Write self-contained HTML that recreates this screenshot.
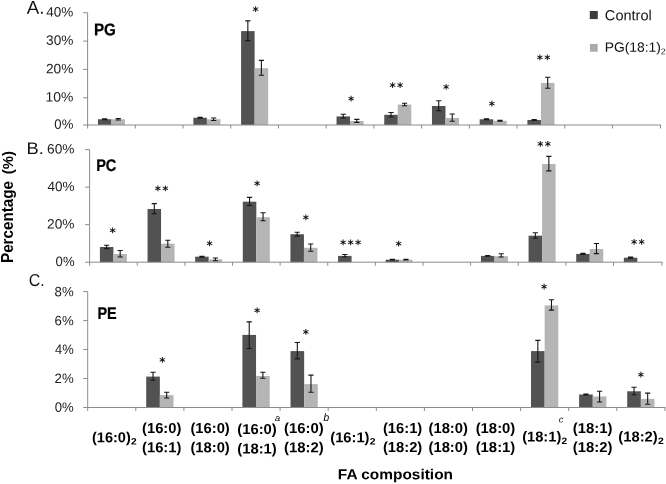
<!DOCTYPE html>
<html><head><meta charset="utf-8"><title>FA composition</title>
<style>html,body{margin:0;padding:0;background:#fff}svg{display:block}text{font-family:"Liberation Sans",sans-serif}text.dj{font-family:"DejaVu Sans",sans-serif}</style>
</head><body>
<svg width="666" height="484" viewBox="0 0 666 484">
<rect width="666" height="484" fill="#fff"/>
<rect x="97.93" y="119.25" width="13.53" height="5.75" fill="#525252"/>
<rect x="111.46" y="119.25" width="13.53" height="5.75" fill="#b5b5b5"/>
<rect x="193.37" y="117.75" width="13.53" height="7.25" fill="#525252"/>
<rect x="206.90" y="119.25" width="13.53" height="5.75" fill="#b5b5b5"/>
<rect x="241.09" y="31.10" width="13.53" height="93.90" fill="#525252"/>
<rect x="254.62" y="68.20" width="13.53" height="56.80" fill="#b5b5b5"/>
<rect x="336.53" y="116.40" width="13.53" height="8.60" fill="#525252"/>
<rect x="350.06" y="121.00" width="13.53" height="4.00" fill="#b5b5b5"/>
<rect x="384.25" y="114.80" width="13.53" height="10.20" fill="#525252"/>
<rect x="397.78" y="104.60" width="13.53" height="20.40" fill="#b5b5b5"/>
<rect x="431.97" y="106.00" width="13.53" height="19.00" fill="#525252"/>
<rect x="445.50" y="118.00" width="13.53" height="7.00" fill="#b5b5b5"/>
<rect x="479.69" y="119.30" width="13.53" height="5.70" fill="#525252"/>
<rect x="493.22" y="120.80" width="13.53" height="4.20" fill="#b5b5b5"/>
<rect x="527.41" y="120.00" width="13.53" height="5.00" fill="#525252"/>
<rect x="540.94" y="82.90" width="13.53" height="42.10" fill="#b5b5b5"/>
<path d="M87.6 12.7V125.0M87.6 125.0H661.00" stroke="#8c8c8c" stroke-width="1" fill="none"/>
<path d="M83.1 12.70H87.6M83.1 41.10H87.6M83.1 69.40H87.6M83.1 97.80H87.6M83.1 125.00H87.6M87.60 125.0V128.5M135.32 125.0V128.5M183.04 125.0V128.5M230.76 125.0V128.5M278.48 125.0V128.5M326.20 125.0V128.5M373.92 125.0V128.5M421.64 125.0V128.5M469.36 125.0V128.5M517.08 125.0V128.5M564.80 125.0V128.5M612.52 125.0V128.5M660.50 125.0V128.5" stroke="#8c8c8c" stroke-width="1" fill="none"/>
<path d="M104.69 118.75V119.75M102.09 118.75H107.29M102.09 119.75H107.29" stroke="#161616" stroke-width="1.1" fill="none"/>
<path d="M118.23 118.45V120.05M115.63 118.45H120.83M115.63 120.05H120.83" stroke="#161616" stroke-width="1.1" fill="none"/>
<path d="M200.13 117.35V118.15M197.53 117.35H202.73M197.53 118.15H202.73" stroke="#161616" stroke-width="1.1" fill="none"/>
<path d="M213.67 118.05V120.45M211.07 118.05H216.27M211.07 120.45H216.27" stroke="#161616" stroke-width="1.1" fill="none"/>
<path d="M247.85 20.85V40.60M245.25 20.85H250.45M245.25 40.60H250.45" stroke="#161616" stroke-width="1.1" fill="none"/>
<path d="M261.39 60.40V75.30M258.79 60.40H263.99M258.79 75.30H263.99" stroke="#161616" stroke-width="1.1" fill="none"/>
<path d="M343.29 114.30V118.00M340.69 114.30H345.89M340.69 118.00H345.89" stroke="#161616" stroke-width="1.1" fill="none"/>
<path d="M356.83 119.40V122.40M354.23 119.40H359.43M354.23 122.40H359.43" stroke="#161616" stroke-width="1.1" fill="none"/>
<path d="M391.01 112.50V117.00M388.41 112.50H393.61M388.41 117.00H393.61" stroke="#161616" stroke-width="1.1" fill="none"/>
<path d="M404.55 103.30V105.80M401.95 103.30H407.15M401.95 105.80H407.15" stroke="#161616" stroke-width="1.1" fill="none"/>
<path d="M438.73 100.80V110.80M436.13 100.80H441.33M436.13 110.80H441.33" stroke="#161616" stroke-width="1.1" fill="none"/>
<path d="M452.27 114.00V121.30M449.67 114.00H454.87M449.67 121.30H454.87" stroke="#161616" stroke-width="1.1" fill="none"/>
<path d="M486.45 118.80V119.80M483.85 118.80H489.05M483.85 119.80H489.05" stroke="#161616" stroke-width="1.1" fill="none"/>
<path d="M499.99 120.30V121.30M497.39 120.30H502.59M497.39 121.30H502.59" stroke="#161616" stroke-width="1.1" fill="none"/>
<path d="M534.17 119.50V120.50M531.57 119.50H536.77M531.57 120.50H536.77" stroke="#161616" stroke-width="1.1" fill="none"/>
<path d="M547.71 77.20V88.30M545.11 77.20H550.31M545.11 88.30H550.31" stroke="#161616" stroke-width="1.1" fill="none"/>
<rect x="99.91" y="247.00" width="13.51" height="15.20" fill="#525252"/>
<rect x="113.41" y="254.00" width="13.51" height="8.20" fill="#b5b5b5"/>
<rect x="147.54" y="209.00" width="13.51" height="53.20" fill="#525252"/>
<rect x="161.04" y="243.70" width="13.51" height="18.50" fill="#b5b5b5"/>
<rect x="195.17" y="256.70" width="13.51" height="5.50" fill="#525252"/>
<rect x="208.68" y="259.40" width="13.51" height="2.80" fill="#b5b5b5"/>
<rect x="242.80" y="201.70" width="13.51" height="60.50" fill="#525252"/>
<rect x="256.31" y="217.20" width="13.51" height="45.00" fill="#b5b5b5"/>
<rect x="290.43" y="234.20" width="13.51" height="28.00" fill="#525252"/>
<rect x="303.94" y="247.80" width="13.51" height="14.40" fill="#b5b5b5"/>
<rect x="338.06" y="255.90" width="13.51" height="6.30" fill="#525252"/>
<rect x="385.69" y="259.70" width="13.51" height="2.50" fill="#525252"/>
<rect x="399.19" y="259.70" width="13.51" height="2.50" fill="#b5b5b5"/>
<rect x="480.95" y="255.90" width="13.51" height="6.30" fill="#525252"/>
<rect x="494.45" y="256.20" width="13.51" height="6.00" fill="#b5b5b5"/>
<rect x="528.58" y="235.70" width="13.51" height="26.50" fill="#525252"/>
<rect x="542.09" y="164.00" width="13.51" height="98.20" fill="#b5b5b5"/>
<rect x="576.21" y="253.90" width="13.51" height="8.30" fill="#525252"/>
<rect x="589.71" y="249.00" width="13.51" height="13.20" fill="#b5b5b5"/>
<rect x="623.84" y="257.70" width="13.51" height="4.50" fill="#525252"/>
<path d="M89.6 149.6V262.2M89.6 262.2H662.50" stroke="#8c8c8c" stroke-width="1" fill="none"/>
<path d="M85.1 149.60H89.6M85.1 187.13H89.6M85.1 224.67H89.6M85.1 262.20H89.6M89.60 262.2V265.7M137.23 262.2V265.7M184.86 262.2V265.7M232.49 262.2V265.7M280.12 262.2V265.7M327.75 262.2V265.7M375.38 262.2V265.7M423.01 262.2V265.7M470.64 262.2V265.7M518.27 262.2V265.7M565.90 262.2V265.7M613.53 262.2V265.7M662.00 262.2V265.7" stroke="#8c8c8c" stroke-width="1" fill="none"/>
<path d="M106.66 245.30V248.60M104.06 245.30H109.26M104.06 248.60H109.26" stroke="#161616" stroke-width="1.1" fill="none"/>
<path d="M120.17 250.50V257.00M117.57 250.50H122.77M117.57 257.00H122.77" stroke="#161616" stroke-width="1.1" fill="none"/>
<path d="M154.29 203.60V213.70M151.69 203.60H156.89M151.69 213.70H156.89" stroke="#161616" stroke-width="1.1" fill="none"/>
<path d="M167.80 240.20V247.20M165.20 240.20H170.40M165.20 247.20H170.40" stroke="#161616" stroke-width="1.1" fill="none"/>
<path d="M201.92 256.30V257.10M199.32 256.30H204.52M199.32 257.10H204.52" stroke="#161616" stroke-width="1.1" fill="none"/>
<path d="M215.43 258.00V260.80M212.83 258.00H218.03M212.83 260.80H218.03" stroke="#161616" stroke-width="1.1" fill="none"/>
<path d="M249.55 197.40V205.50M246.95 197.40H252.15M246.95 205.50H252.15" stroke="#161616" stroke-width="1.1" fill="none"/>
<path d="M263.06 212.80V220.70M260.46 212.80H265.66M260.46 220.70H265.66" stroke="#161616" stroke-width="1.1" fill="none"/>
<path d="M297.18 232.30V236.10M294.58 232.30H299.78M294.58 236.10H299.78" stroke="#161616" stroke-width="1.1" fill="none"/>
<path d="M310.69 244.00V251.30M308.09 244.00H313.29M308.09 251.30H313.29" stroke="#161616" stroke-width="1.1" fill="none"/>
<path d="M344.81 254.50V257.00M342.21 254.50H347.41M342.21 257.00H347.41" stroke="#161616" stroke-width="1.1" fill="none"/>
<path d="M392.44 259.40V260.00M389.84 259.40H395.04M389.84 260.00H395.04" stroke="#161616" stroke-width="1.1" fill="none"/>
<path d="M405.95 259.40V260.00M403.35 259.40H408.55M403.35 260.00H408.55" stroke="#161616" stroke-width="1.1" fill="none"/>
<path d="M487.70 255.50V256.30M485.10 255.50H490.30M485.10 256.30H490.30" stroke="#161616" stroke-width="1.1" fill="none"/>
<path d="M501.21 253.70V257.00M498.61 253.70H503.81M498.61 257.00H503.81" stroke="#161616" stroke-width="1.1" fill="none"/>
<path d="M535.33 232.80V238.30M532.73 232.80H537.93M532.73 238.30H537.93" stroke="#161616" stroke-width="1.1" fill="none"/>
<path d="M548.84 156.40V170.90M546.24 156.40H551.44M546.24 170.90H551.44" stroke="#161616" stroke-width="1.1" fill="none"/>
<path d="M582.96 253.40V254.40M580.36 253.40H585.56M580.36 254.40H585.56" stroke="#161616" stroke-width="1.1" fill="none"/>
<path d="M596.47 243.50V253.60M593.87 243.50H599.07M593.87 253.60H599.07" stroke="#161616" stroke-width="1.1" fill="none"/>
<path d="M630.59 257.10V258.30M627.99 257.10H633.19M627.99 258.30H633.19" stroke="#161616" stroke-width="1.1" fill="none"/>
<rect x="146.21" y="376.60" width="13.64" height="30.90" fill="#525252"/>
<rect x="159.85" y="395.10" width="13.64" height="12.40" fill="#b5b5b5"/>
<rect x="242.41" y="334.90" width="13.64" height="72.60" fill="#525252"/>
<rect x="256.05" y="376.00" width="13.64" height="31.50" fill="#b5b5b5"/>
<rect x="290.51" y="351.10" width="13.64" height="56.40" fill="#525252"/>
<rect x="304.15" y="384.10" width="13.64" height="23.40" fill="#b5b5b5"/>
<rect x="531.01" y="351.10" width="13.64" height="56.40" fill="#525252"/>
<rect x="544.65" y="305.40" width="13.64" height="102.10" fill="#b5b5b5"/>
<rect x="579.11" y="394.50" width="13.64" height="13.00" fill="#525252"/>
<rect x="592.75" y="396.50" width="13.64" height="11.00" fill="#b5b5b5"/>
<rect x="627.21" y="391.30" width="13.64" height="16.20" fill="#525252"/>
<rect x="640.85" y="398.90" width="13.64" height="8.60" fill="#b5b5b5"/>
<path d="M87.7 291.6V407.5M87.7 407.5H665.40" stroke="#8c8c8c" stroke-width="1" fill="none"/>
<path d="M83.2 291.60H87.7M83.2 320.58H87.7M83.2 349.55H87.7M83.2 378.52H87.7M83.2 407.50H87.7M87.70 407.5V411.0M135.80 407.5V411.0M183.90 407.5V411.0M232.00 407.5V411.0M280.10 407.5V411.0M328.20 407.5V411.0M376.30 407.5V411.0M424.40 407.5V411.0M472.50 407.5V411.0M520.60 407.5V411.0M568.70 407.5V411.0M616.80 407.5V411.0M664.90 407.5V411.0" stroke="#8c8c8c" stroke-width="1" fill="none"/>
<path d="M153.03 372.20V380.30M150.43 372.20H155.63M150.43 380.30H155.63" stroke="#161616" stroke-width="1.1" fill="none"/>
<path d="M166.67 392.20V398.00M164.07 392.20H169.27M164.07 398.00H169.27" stroke="#161616" stroke-width="1.1" fill="none"/>
<path d="M249.23 321.90V348.50M246.63 321.90H251.83M246.63 348.50H251.83" stroke="#161616" stroke-width="1.1" fill="none"/>
<path d="M262.87 372.20V378.30M260.27 372.20H265.47M260.27 378.30H265.47" stroke="#161616" stroke-width="1.1" fill="none"/>
<path d="M297.33 342.50V358.90M294.73 342.50H299.93M294.73 358.90H299.93" stroke="#161616" stroke-width="1.1" fill="none"/>
<path d="M310.97 375.10V392.20M308.37 375.10H313.57M308.37 392.20H313.57" stroke="#161616" stroke-width="1.1" fill="none"/>
<path d="M537.83 340.40V362.10M535.23 340.40H540.43M535.23 362.10H540.43" stroke="#161616" stroke-width="1.1" fill="none"/>
<path d="M551.47 299.70V310.10M548.87 299.70H554.07M548.87 310.10H554.07" stroke="#161616" stroke-width="1.1" fill="none"/>
<path d="M585.93 394.10V394.90M583.33 394.10H588.53M583.33 394.90H588.53" stroke="#161616" stroke-width="1.1" fill="none"/>
<path d="M599.57 391.30V402.00M596.97 391.30H602.17M596.97 402.00H602.17" stroke="#161616" stroke-width="1.1" fill="none"/>
<path d="M634.03 387.30V394.80M631.43 387.30H636.63M631.43 394.80H636.63" stroke="#161616" stroke-width="1.1" fill="none"/>
<path d="M647.67 393.10V404.30M645.07 393.10H650.27M645.07 404.30H650.27" stroke="#161616" stroke-width="1.1" fill="none"/>
<text transform="translate(46.33,16.46) rotate(0.03) scale(1.0001,1)" font-size="13.52" fill="#1c1c1c">40%</text>
<text transform="translate(46.05,44.86) rotate(0.03) scale(1.0104,1)" font-size="13.52" fill="#1c1c1c">30%</text>
<text transform="translate(45.91,73.16) rotate(0.03) scale(1.0157,1)" font-size="13.52" fill="#1c1c1c">20%</text>
<text transform="translate(45.56,101.56) rotate(0.03) scale(1.0292,1)" font-size="13.52" fill="#1c1c1c">10%</text>
<text transform="translate(54.37,128.76) rotate(0.03) scale(0.9717,1)" font-size="13.52" fill="#1c1c1c">0%</text>
<text transform="translate(47.11,153.46) rotate(0.03) scale(1.0157,1)" font-size="13.52" fill="#1c1c1c">60%</text>
<text transform="translate(47.53,191.00) rotate(0.03) scale(1.0001,1)" font-size="13.52" fill="#1c1c1c">40%</text>
<text transform="translate(47.11,228.53) rotate(0.03) scale(1.0157,1)" font-size="13.52" fill="#1c1c1c">20%</text>
<text transform="translate(55.57,266.06) rotate(0.03) scale(0.9717,1)" font-size="13.52" fill="#1c1c1c">0%</text>
<text transform="translate(54.61,296.26) rotate(0.03) scale(0.9753,1)" font-size="13.52" fill="#1c1c1c">8%</text>
<text transform="translate(54.54,325.14) rotate(0.03) scale(0.9789,1)" font-size="13.52" fill="#1c1c1c">6%</text>
<text transform="translate(54.94,354.08) rotate(0.03) scale(0.9442,1)" font-size="13.71" fill="#1c1c1c">4%</text>
<text transform="translate(54.54,382.96) rotate(0.03) scale(0.9720,1)" font-size="13.62" fill="#1c1c1c">2%</text>
<text transform="translate(54.67,411.76) rotate(0.03) scale(0.9717,1)" font-size="13.52" fill="#1c1c1c">0%</text>
<text transform="translate(252.41,15.21) rotate(0.03) scale(0.9860,1)" font-size="12.04" fill="#111" font-weight="bold" class="dj">*</text>
<text transform="translate(347.91,104.71) rotate(0.03) scale(0.9860,1)" font-size="12.04" fill="#111" font-weight="bold" class="dj">*</text>
<text transform="translate(389.56,91.31) rotate(0.03) scale(0.9860,1)" font-size="12.04" fill="#111" font-weight="bold" class="dj">*</text>
<text transform="translate(397.06,91.31) rotate(0.03) scale(0.9860,1)" font-size="12.04" fill="#111" font-weight="bold" class="dj">*</text>
<text transform="translate(442.91,93.11) rotate(0.03) scale(0.9860,1)" font-size="12.04" fill="#111" font-weight="bold" class="dj">*</text>
<text transform="translate(488.81,109.71) rotate(0.03) scale(0.9860,1)" font-size="12.04" fill="#111" font-weight="bold" class="dj">*</text>
<text transform="translate(536.76,63.41) rotate(0.03) scale(0.9860,1)" font-size="12.04" fill="#111" font-weight="bold" class="dj">*</text>
<text transform="translate(544.26,63.41) rotate(0.03) scale(0.9860,1)" font-size="12.04" fill="#111" font-weight="bold" class="dj">*</text>
<text transform="translate(109.41,236.41) rotate(0.03) scale(0.9860,1)" font-size="12.04" fill="#111" font-weight="bold" class="dj">*</text>
<text transform="translate(154.66,194.41) rotate(0.03) scale(0.9860,1)" font-size="12.04" fill="#111" font-weight="bold" class="dj">*</text>
<text transform="translate(162.16,194.41) rotate(0.03) scale(0.9860,1)" font-size="12.04" fill="#111" font-weight="bold" class="dj">*</text>
<text transform="translate(206.61,249.41) rotate(0.03) scale(0.9860,1)" font-size="12.04" fill="#111" font-weight="bold" class="dj">*</text>
<text transform="translate(254.01,189.61) rotate(0.03) scale(0.9860,1)" font-size="12.04" fill="#111" font-weight="bold" class="dj">*</text>
<text transform="translate(302.71,223.41) rotate(0.03) scale(0.9860,1)" font-size="12.04" fill="#111" font-weight="bold" class="dj">*</text>
<text transform="translate(339.91,248.61) rotate(0.03) scale(0.9860,1)" font-size="12.04" fill="#111" font-weight="bold" class="dj">*</text>
<text transform="translate(347.41,248.61) rotate(0.03) scale(0.9860,1)" font-size="12.04" fill="#111" font-weight="bold" class="dj">*</text>
<text transform="translate(354.91,248.61) rotate(0.03) scale(0.9860,1)" font-size="12.04" fill="#111" font-weight="bold" class="dj">*</text>
<text transform="translate(395.61,249.71) rotate(0.03) scale(0.9860,1)" font-size="12.04" fill="#111" font-weight="bold" class="dj">*</text>
<text transform="translate(537.16,150.01) rotate(0.03) scale(0.9860,1)" font-size="12.04" fill="#111" font-weight="bold" class="dj">*</text>
<text transform="translate(544.66,150.01) rotate(0.03) scale(0.9860,1)" font-size="12.04" fill="#111" font-weight="bold" class="dj">*</text>
<text transform="translate(631.06,248.01) rotate(0.03) scale(0.9860,1)" font-size="12.04" fill="#111" font-weight="bold" class="dj">*</text>
<text transform="translate(638.56,248.01) rotate(0.03) scale(0.9860,1)" font-size="12.04" fill="#111" font-weight="bold" class="dj">*</text>
<text transform="translate(159.31,366.11) rotate(0.03) scale(0.9860,1)" font-size="12.04" fill="#111" font-weight="bold" class="dj">*</text>
<text transform="translate(253.91,316.41) rotate(0.03) scale(0.9860,1)" font-size="12.04" fill="#111" font-weight="bold" class="dj">*</text>
<text transform="translate(302.81,338.01) rotate(0.03) scale(0.9860,1)" font-size="12.04" fill="#111" font-weight="bold" class="dj">*</text>
<text transform="translate(541.11,292.71) rotate(0.03) scale(0.9860,1)" font-size="12.04" fill="#111" font-weight="bold" class="dj">*</text>
<text transform="translate(637.71,380.81) rotate(0.03) scale(0.9860,1)" font-size="12.04" fill="#111" font-weight="bold" class="dj">*</text>
<text transform="translate(93.91,35.28) rotate(0.03) scale(0.8999,1)" font-size="16.90" fill="#000" font-weight="bold" stroke="#000" stroke-width="0.25">PG</text>
<text transform="translate(96.15,171.23) rotate(0.03) scale(0.8635,1)" font-size="16.90" fill="#000" font-weight="bold" stroke="#000" stroke-width="0.25">PC</text>
<text transform="translate(97.46,318.80) rotate(0.03) scale(0.8462,1)" font-size="17.10" fill="#000" font-weight="bold" stroke="#000" stroke-width="0.25">PE</text>
<text transform="translate(26.80,13.80) rotate(0.03) scale(1.0084,1)" font-size="18.55" fill="#111">A.</text>
<text transform="translate(26.44,153.90) rotate(0.03) scale(1.0892,1)" font-size="16.81" fill="#111">B.</text>
<text transform="translate(28.70,285.93) rotate(0.03) scale(0.9325,1)" font-size="17.18" fill="#111">C.</text>
<rect x="589.8" y="11.0" width="8.0" height="8.1" fill="#3c3c3c"/>
<rect x="589.9" y="43.9" width="7.8" height="7.8" fill="#ababab"/>
<text transform="translate(604.87,20.25) rotate(0.03) scale(1.0000,1)" font-size="14.56" fill="#111">Control</text>
<text transform="translate(604.69,51.65) rotate(0.03) scale(1.0290,1)" font-size="13.48" fill="#111">PG(18:1)</text>
<text transform="translate(660.75,54.20) rotate(0.03) scale(1.0875,1)" font-size="8.29" fill="#111">2</text>
<text transform="translate(91.97,442.16) rotate(0.03) scale(1.0130,1)" font-size="14.37" fill="#000" font-weight="bold">(16:0)</text>
<text transform="translate(131.04,444.60) rotate(0.03) scale(1.0994,1)" font-size="9.29" fill="#000" font-weight="bold">2</text>
<text transform="translate(142.06,432.96) rotate(0.03) scale(1.0265,1)" font-size="14.37" fill="#000" font-weight="bold">(16:0)</text>
<text transform="translate(142.06,452.16) rotate(0.03) scale(1.0265,1)" font-size="14.37" fill="#000" font-weight="bold">(16:1)</text>
<text transform="translate(190.46,432.96) rotate(0.03) scale(1.0265,1)" font-size="14.37" fill="#000" font-weight="bold">(16:0)</text>
<text transform="translate(190.46,452.16) rotate(0.03) scale(1.0265,1)" font-size="14.37" fill="#000" font-weight="bold">(18:0)</text>
<text transform="translate(237.26,433.96) rotate(0.03) scale(1.0319,1)" font-size="14.37" fill="#000" font-weight="bold">(16:0)</text>
<text transform="translate(237.26,453.46) rotate(0.03) scale(1.0319,1)" font-size="14.37" fill="#000" font-weight="bold">(18:1)</text>
<text transform="translate(284.06,432.96) rotate(0.03) scale(1.0346,1)" font-size="14.37" fill="#000" font-weight="bold">(16:0)</text>
<text transform="translate(284.06,452.16) rotate(0.03) scale(1.0346,1)" font-size="14.37" fill="#000" font-weight="bold">(18:2)</text>
<text transform="translate(330.26,442.16) rotate(0.03) scale(1.0238,1)" font-size="14.37" fill="#000" font-weight="bold">(16:1)</text>
<text transform="translate(369.74,444.60) rotate(0.03) scale(1.1218,1)" font-size="9.29" fill="#000" font-weight="bold">2</text>
<text transform="translate(382.96,432.96) rotate(0.03) scale(1.0265,1)" font-size="14.37" fill="#000" font-weight="bold">(16:1)</text>
<text transform="translate(382.96,451.96) rotate(0.03) scale(1.0265,1)" font-size="14.37" fill="#000" font-weight="bold">(18:2)</text>
<text transform="translate(428.56,432.96) rotate(0.03) scale(1.0265,1)" font-size="14.37" fill="#000" font-weight="bold">(18:0)</text>
<text transform="translate(428.56,451.96) rotate(0.03) scale(1.0265,1)" font-size="14.37" fill="#000" font-weight="bold">(18:0)</text>
<text transform="translate(475.66,432.96) rotate(0.03) scale(1.0346,1)" font-size="14.37" fill="#000" font-weight="bold">(18:0)</text>
<text transform="translate(475.66,451.96) rotate(0.03) scale(1.0346,1)" font-size="14.37" fill="#000" font-weight="bold">(18:1)</text>
<text transform="translate(522.17,441.46) rotate(0.03) scale(1.0211,1)" font-size="14.37" fill="#000" font-weight="bold">(18:1)</text>
<text transform="translate(561.54,443.90) rotate(0.03) scale(1.0994,1)" font-size="9.29" fill="#000" font-weight="bold">2</text>
<text transform="translate(572.76,432.96) rotate(0.03) scale(1.0346,1)" font-size="14.37" fill="#000" font-weight="bold">(18:1)</text>
<text transform="translate(572.76,451.96) rotate(0.03) scale(1.0346,1)" font-size="14.37" fill="#000" font-weight="bold">(18:2)</text>
<text transform="translate(618.36,441.46) rotate(0.03) scale(1.0265,1)" font-size="14.37" fill="#000" font-weight="bold">(18:2)</text>
<text transform="translate(657.94,443.90) rotate(0.03) scale(1.1218,1)" font-size="9.29" fill="#000" font-weight="bold">2</text>
<text transform="translate(274.80,421.01) rotate(0.03) scale(1.1229,1)" font-size="8.73" fill="#000" font-style="italic">a</text>
<text transform="translate(323.45,420.99) rotate(0.03) scale(0.9608,1)" font-size="10.61" fill="#000" font-style="italic">b</text>
<text transform="translate(558.71,422.61) rotate(0.03) scale(1.0522,1)" font-size="9.09" fill="#222" font-style="italic">c</text>
<text transform="translate(337.80,479.25) rotate(0.03) scale(1.0610,1)" font-size="14.55" fill="#000" font-weight="bold">FA composition</text>
<text transform="translate(13.49,262.99) rotate(-90) scale(0.9392,1)" font-size="16.22" font-weight="bold" fill="#000">Percentage</text>
<text transform="translate(12.64,174.25) rotate(-90) scale(0.9617,1)" font-size="15.51" font-weight="bold" fill="#000">(%)</text>
</svg>
</body></html>
